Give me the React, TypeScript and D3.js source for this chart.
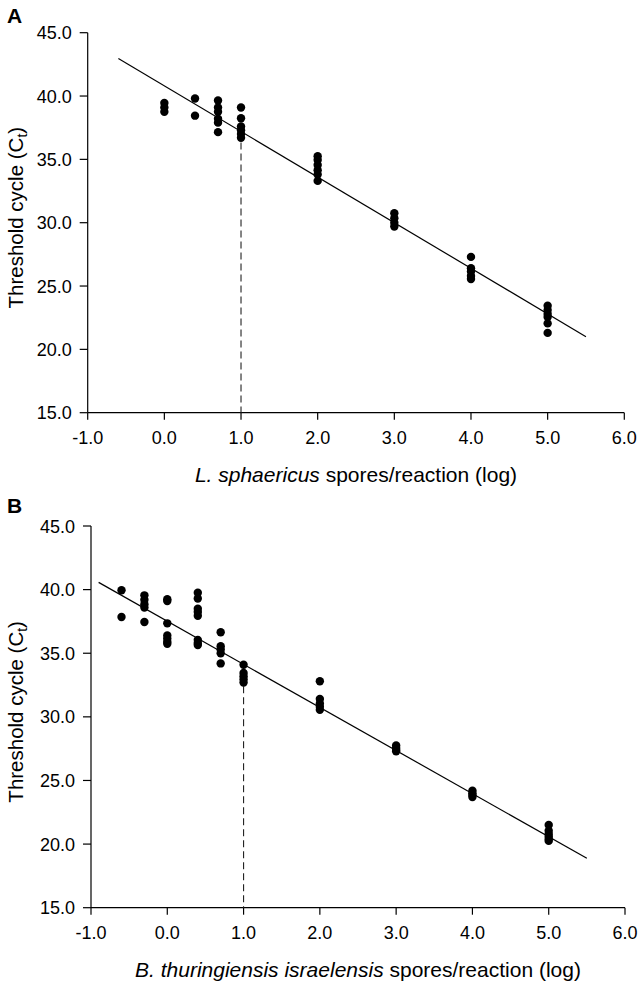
import React from "react";
import * as d3 from "d3";

// ---------- Data ----------
const xTicks = [-1, 0, 1, 2, 3, 4, 5, 6];
const yTicks = [15, 20, 25, 30, 35, 40, 45];

// Panel A: L. sphaericus
const aLevels = [0.0, 0.4, 0.7, 1.0, 2.0, 3.0, 4.0, 5.0];
const aCt = [
  [39.45, 39.1, 38.75],
  [39.8, 38.45],
  [39.65, 39.1, 38.75, 38.2, 37.9, 37.15],
  [39.1, 38.25, 37.6, 37.3, 37.0, 36.7],
  [35.25, 34.95, 34.55, 34.15, 33.8, 33.3],
  [30.75, 30.35, 30.0, 29.7],
  [27.3, 26.4, 26.15, 25.8, 25.55],
  [23.45, 23.1, 22.8, 22.55, 22.05, 21.3],
];
const aFit = [
  [-0.6, 42.96],
  [5.5, 21.0],
];

// Panel B: B. thuringiensis israelensis
const bLevels = [-0.6, -0.3, 0.0, 0.4, 0.7, 1.0, 2.0, 3.0, 4.0, 5.0];
const bCt = [
  [39.95, 37.85],
  [39.55, 39.2, 38.85, 38.6, 37.45],
  [39.25, 39.1, 37.35, 36.4, 36.15, 35.9, 35.75],
  [39.75, 39.3, 38.5, 38.25, 37.95, 36.05, 35.8, 35.65],
  [36.65, 35.55, 35.3, 35.0, 34.2],
  [34.1, 33.45, 33.2, 32.95, 32.7],
  [32.8, 31.4, 31.05, 30.8, 30.55],
  [27.75, 27.55, 27.4, 27.3],
  [24.2, 24.0, 23.85, 23.7],
  [21.5, 21.05, 20.8, 20.6, 20.4, 20.25],
];
const bFit = [
  [-0.9, 40.57],
  [5.5, 18.88],
];

const cutoff = 1.0;

const FONT = "'Liberation Sans', Arial, Helvetica, sans-serif";

type PanelProps = {
  letter: string;
  levels: number[];
  cts: number[][];
  fit: number[][];
  xRange: [number, number];
  yRange: [number, number];
  xTitle: React.ReactNode;
  letterY: number;
};

function Panel({ letter, levels, cts, fit, xRange, yRange, xTitle, letterY }: PanelProps) {
  const x = d3.scaleLinear().domain([-1, 6]).range(xRange);
  const y = d3.scaleLinear().domain([15, 45]).range(yRange);
  const x0 = xRange[0];
  const yBottom = yRange[0];
  const line = d3
    .line<number[]>()
    .x((d) => x(d[0]))
    .y((d) => y(d[1]));
  const fitAt = (v: number) => {
    const [p0, p1] = fit;
    return p0[1] + ((p1[1] - p0[1]) * (v - p0[0])) / (p1[0] - p0[0]);
  };
  const pts: { lx: number; ct: number }[] = [];
  levels.forEach((lv, i) => cts[i].forEach((c) => pts.push({ lx: lv, ct: c })));
  const midY = (yRange[0] + yRange[1]) / 2 - 5;
  const midX = (xRange[0] + xRange[1]) / 2;

  return (
    <g fontFamily={FONT}>
      <text x={7} y={letterY} fontSize={21} fontWeight="bold" fill="#000">
        {letter}
      </text>
      {/* y axis */}
      <line x1={x0} x2={x0} y1={yRange[1]} y2={yBottom} stroke="#000" strokeWidth={1.2} />
      {yTicks.map((t) => (
        <g key={"y" + t}>
          <line x1={x0 - 8} x2={x0} y1={y(t)} y2={y(t)} stroke="#000" strokeWidth={1.2} />
          <text x={x0 - 16} y={y(t) + 6.5} fontSize={18} textAnchor="end" fill="#000">
            {t.toFixed(1)}
          </text>
        </g>
      ))}
      {/* x axis */}
      <line x1={x0} x2={xRange[1]} y1={yBottom} y2={yBottom} stroke="#000" strokeWidth={1.2} />
      {xTicks.map((t) => (
        <g key={"x" + t}>
          <line x1={x(t)} x2={x(t)} y1={yBottom} y2={yBottom + 7} stroke="#000" strokeWidth={1.2} />
          <text x={x(t)} y={yBottom + 31.5} fontSize={18} textAnchor="middle" fill="#000">
            {t.toFixed(1)}
          </text>
        </g>
      ))}
      {/* y title */}
      <text
        transform={`translate(23,${midY}) rotate(-90)`}
        fontSize={20.5}
        textAnchor="middle"
        fill="#000"
      >
        Threshold cycle (C
        <tspan fontSize={14} dy={4}>
          t
        </tspan>
        <tspan dy={-4}>)</tspan>
      </text>
      {/* x title */}
      <text x={midX} y={yBottom + 69} fontSize={21} textAnchor="middle" fill="#000">
        {xTitle}
      </text>
      {/* cutoff dashed line */}
      <line
        x1={x(cutoff)}
        x2={x(cutoff)}
        y1={y(fitAt(cutoff))}
        y2={yBottom}
        stroke="#222"
        strokeWidth={1.1}
        strokeDasharray="7,4"
      />
      {/* regression line */}
      <path d={line(fit) || ""} fill="none" stroke="#000" strokeWidth={1.2} />
      {/* points */}
      {pts.map((p, i) => (
        <circle key={i} cx={x(p.lx)} cy={y(p.ct)} r={4.2} fill="#000" />
      ))}
    </g>
  );
}

export default function App() {
  return (
    <svg
      width={643}
      height={988}
      style={{ position: "absolute", left: 0, top: 0, background: "#fff" }}
    >
      <rect width={643} height={988} fill="#fff" />
      <Panel
        letter="A"
        levels={aLevels}
        cts={aCt}
        fit={aFit}
        xRange={[87.7, 624.3]}
        yRange={[412.7, 32.7]}
        letterY={23}
        xTitle={
          <>
            <tspan fontStyle="italic">L. sphaericus</tspan> spores/reaction (log)
          </>
        }
      />
      <Panel
        letter="B"
        levels={bLevels}
        cts={bCt}
        fit={bFit}
        xRange={[91, 625]}
        yRange={[907.7, 526]}
        letterY={513}
        xTitle={
          <>
            <tspan fontStyle="italic">B. thuringiensis israelensis</tspan> spores/reaction (log)
          </>
        }
      />
    </svg>
  );
}
